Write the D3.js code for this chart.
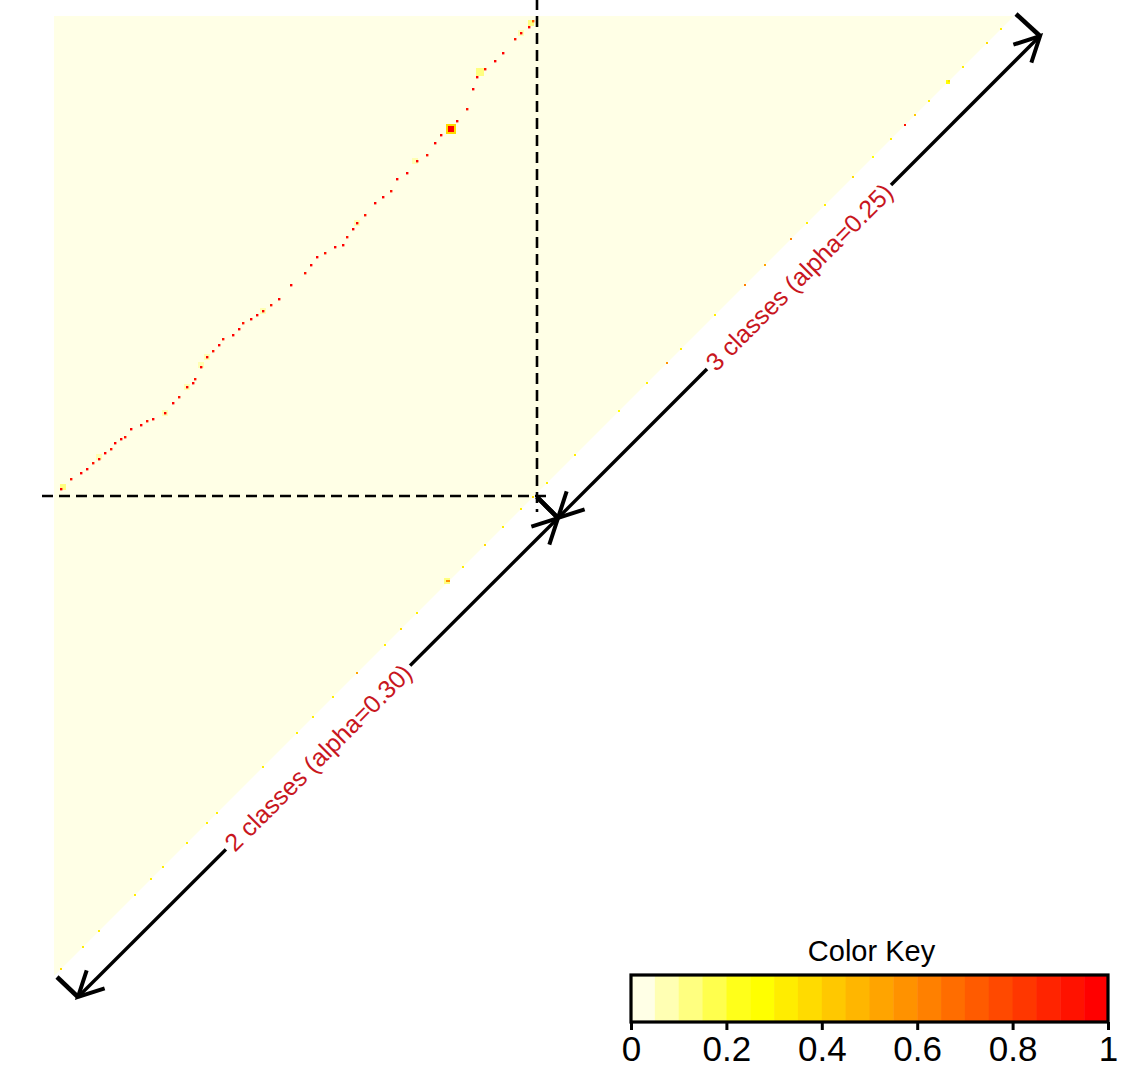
<!DOCTYPE html>
<html><head><meta charset="utf-8">
<script src="https://cdn.jsdelivr.net/npm/d3@7"></script>
<style>body{margin:0;background:#fff}svg{display:block}</style>
</head><body><svg id="chart" width="1128" height="1072"></svg>
<script>
// ---------- data ----------
const N = 480;                       // matrix size (cells)
const splitIndex = 241.5;            // boundary between the 2-class and 3-class blocks
const baseValue = 0;                 // background value of the matrix

// the off-diagonal ridge of high values (col, row, value)
const lineCols = [3,8,13,16,19,22,25,28,30,33,35,38,43,46,49,55,59,62,66,69,70,73,76,79,82,84,89,92,94,98,101,104,108,112,118,125,128,131,135,140,144,146,149,151,155,160,164,168,171,176,181,186,190,193,201,206,209,211,215,220,224,230,233,237,239];
const lineRows = [236,231,228,226,223,221,218,216,213,211,210,206,204,202,201,198,193,190,185,183,181,175,170,167,164,161,159,156,153,151,149,147,144,141,134,128,124,120,118,115,114,110,106,103,99,93,90,87,81,78,72,69,63,59,52,46,36,30,26,22,18,11,8,5,2];
const lineVals = [0.95,0.9,0.95,1,0.9,0.95,0.95,0.9,0.95,1,0.9,0.95,0.95,0.9,0.95,1,0.95,0.9,0.95,0.95,0.9,1,0.95,0.9,0.95,0.9,0.95,0.95,0.9,0.95,0.95,1,0.9,0.95,0.95,0.9,0.95,0.95,0.9,0.95,1,0.9,0.95,0.95,0.9,0.95,0.95,0.9,0.95,1,0.95,0.9,0.95,0.95,0.95,0.9,0.95,0.95,0.9,0.95,0.95,0.9,0.95,0.95,0.7];

// small blobs around some cells (col, row, size in cells, value)
const patchCols  = [196,197,195,196,446,54,21,72,65,150,211,237,179,103,75,3,232];
const patchRows  = [54,55,281,282,32,197,219,173,184,102,26,2,71,146,169,234,7];
const patchSizes = [5,3,3,1,2,3,3,3,3,3,4,3,3,3,3,3,3];
const patchVals  = [0.35,0.95,0.12,0.55,0.25,0.08,0.08,0.08,0.08,0.08,0.1,0.12,0.08,0.08,0.08,0.12,0.08];

// scattered values on the diagonal (row = N-1-col)
const diagCols = [473,466,454,447,437,430,425,418,409,399,385,376,368,355,345,330,313,306,296,282,260,246,239,233,224,215,204,197,181,173,165,151,139,129,121,104,81,76,66,54,48,40,22,14,3];
const diagVals = [0.3,0.35,0.3,0.35,0.3,0.4,0.9,0.3,0.25,0.35,0.3,0.3,0.6,0.5,0.6,0.3,0.3,0.55,0.3,0.25,0.3,0.3,0.35,0.3,0.3,0.35,0.3,0.55,0.3,0.35,0.3,0.5,0.3,0.3,0.3,0.3,0.3,0.3,0.3,0.3,0.3,0.3,0.3,0.3,0.35];

// colour key (rev(heat.colors(20)))
const keyColors = ["#FFFFE6","#FFFFB3","#FFFF80","#FFFF4D","#FFFF1A","#FFFF00","#FFED00","#FFDB00","#FFC800","#FFB600","#FFA400","#FF9200","#FF8000","#FF6D00","#FF5B00","#FF4900","#FF3700","#FF2400","#FF1200","#FF0000"];
const keyTicks = [0,0.2,0.4,0.6,0.8,1];
const keyTickLabels = ["0","0.2","0.4","0.6","0.8","1"];
const keyTitle = "Color Key";

// dashed block boundaries (cell units)
const dashExtent = [-8.5, 248];

// annotation arrows: label, start bar, start tip, end tip, end bar (cell units)
const segLabels = ["2 classes (alpha=0.30)", "3 classes (alpha=0.25)"];
const segFromBar = [[1.5,480.5],[241.5,240.5]];
const segFrom    = [[12,490.5],[252,251]];
const segTo      = [[252,251],[493,10]];
const segToBar   = [[241.5,240.5],[481,-1]];

// ---------- drawing ----------
const svg = d3.select("#chart");
const x = d3.scaleLinear().domain([0, N]).range([54, 1014]);
const y = d3.scaleLinear().domain([0, N]).range([16, 976]);
const color = d3.scaleQuantize().domain([0, 1]).range(keyColors);
const FONT = "Liberation Sans, Arial, sans-serif";

// matrix background (upper-left triangle)
svg.append("polygon")
  .attr("points", [[0,0],[N,0],[0,N]].map(p => [x(p[0]), y(p[1])].join(",")).join(" "))
  .attr("fill", color(baseValue));

const patches = patchCols.map((c,i) => ({c, r: patchRows[i], s: patchSizes[i], v: patchVals[i]}));
svg.append("g").selectAll("rect").data(patches).join("rect")
  .attr("x", d => x(d.c)).attr("y", d => y(d.r))
  .attr("width", d => x(d.s) - x(0)).attr("height", d => y(d.s) - y(0))
  .attr("fill", d => color(d.v));

const ridge = lineCols.map((c,i) => ({c, r: lineRows[i], v: lineVals[i]}));
svg.append("g").selectAll("rect").data(ridge).join("rect")
  .attr("x", d => x(d.c)).attr("y", d => y(d.r))
  .attr("width", x(1.2) - x(0)).attr("height", y(1.2) - y(0))
  .attr("fill", d => color(d.v));

const diag = diagCols.map((c,i) => ({c, r: N - 1 - c, v: diagVals[i]}));
svg.append("g").selectAll("rect").data(diag).join("rect")
  .attr("x", d => x(d.c)).attr("y", d => y(d.r))
  .attr("width", x(1) - x(0)).attr("height", y(1) - y(0))
  .attr("fill", d => color(d.v));

// dashed boundaries
const dash = svg.append("g").attr("stroke", "#000").attr("stroke-width", 2.6).attr("stroke-dasharray", "11,6");
dash.append("line").attr("x1", x(splitIndex)).attr("x2", x(splitIndex)).attr("y1", y(dashExtent[0])).attr("y2", y(dashExtent[1]));
dash.append("line").attr("y1", y(splitIndex - 1.5)).attr("y2", y(splitIndex - 1.5)).attr("x1", x(-6)).attr("x2", x(dashExtent[1]));

// arrows
const ann = svg.append("g");
function head(tip, from) {
  const dx = from[0] - tip[0], dy = from[1] - tip[1];
  const a = Math.atan2(dy, dx), L = 28, w = 27 * Math.PI / 180;
  const p1 = [tip[0] + L * Math.cos(a + w), tip[1] + L * Math.sin(a + w)];
  const p2 = [tip[0] + L * Math.cos(a - w), tip[1] + L * Math.sin(a - w)];
  return `M${p1[0]},${p1[1]}L${tip[0]},${tip[1]}L${p2[0]},${p2[1]}`;
}
segLabels.forEach((lab, i) => {
  const a = [x(segFrom[i][0]), y(segFrom[i][1])];
  const b = [x(segTo[i][0]), y(segTo[i][1])];
  const ab = [x(segFromBar[i][0]), y(segFromBar[i][1])];
  const bb = [x(segToBar[i][0]), y(segToBar[i][1])];
  ann.append("line").attr("x1", a[0]).attr("y1", a[1]).attr("x2", b[0]).attr("y2", b[1])
    .attr("stroke", "#000").attr("stroke-width", 3.4);
  ann.append("path").attr("d", head(a, b)).attr("fill", "none").attr("stroke", "#000").attr("stroke-width", 4);
  ann.append("path").attr("d", head(b, a)).attr("fill", "none").attr("stroke", "#000").attr("stroke-width", 4);
  ann.append("line").attr("x1", ab[0]).attr("y1", ab[1]).attr("x2", a[0]).attr("y2", a[1])
    .attr("stroke", "#000").attr("stroke-width", 4.5);
  ann.append("line").attr("x1", bb[0]).attr("y1", bb[1]).attr("x2", b[0]).attr("y2", b[1])
    .attr("stroke", "#000").attr("stroke-width", 4.5);
  const mid = [(a[0] + b[0]) / 2, (a[1] + b[1]) / 2];
  const ang = Math.atan2(b[1] - a[1], b[0] - a[0]) * 180 / Math.PI;
  const g = ann.append("g").attr("transform", `translate(${mid[0]},${mid[1]}) rotate(${ang})`);
  const bg = g.append("rect").attr("fill", "#fff");
  const t = g.append("text").text(lab)
    .attr("text-anchor", "middle").attr("dominant-baseline", "central")
    .attr("font-family", FONT).attr("font-size", 25)
    .attr("fill", "#c8161e");
  const len = t.node().getComputedTextLength();
  bg.attr("x", -len / 2 - 4).attr("width", len + 8).attr("y", -8).attr("height", 16);
});

// colour key
const kx = d3.scaleLinear().domain([0, 1]).range([631, 1108]);
const keyTop = 975, keyBottom = 1022;
const key = svg.append("g");
key.selectAll("rect").data(keyColors).join("rect")
  .attr("x", (d, i) => kx(i / keyColors.length))
  .attr("width", (d, i) => kx((i + 1) / keyColors.length) - kx(i / keyColors.length) + 0.5)
  .attr("y", keyTop).attr("height", keyBottom - keyTop)
  .attr("fill", d => d);
key.append("rect").attr("x", kx(0)).attr("y", keyTop).attr("width", kx(1) - kx(0)).attr("height", keyBottom - keyTop)
  .attr("fill", "none").attr("stroke", "#000").attr("stroke-width", 3.2);
const axis = key.append("g").attr("transform", `translate(0,${keyBottom})`)
  .call(d3.axisBottom(kx).tickValues(keyTicks).tickFormat((d, i) => keyTickLabels[i]).tickSize(8).tickPadding(6));
axis.select(".domain").remove();
axis.selectAll(".tick line").attr("stroke", "#000").attr("stroke-width", 3);
axis.selectAll(".tick text").attr("font-family", FONT).attr("font-size", 35).attr("fill", "#000");
key.append("text").text(keyTitle).attr("x", (kx(0) + kx(1)) / 2 + 2).attr("y", 961)
  .attr("text-anchor", "middle").attr("font-family", FONT)
  .attr("font-size", 29).attr("fill", "#000");
</script></body></html>
